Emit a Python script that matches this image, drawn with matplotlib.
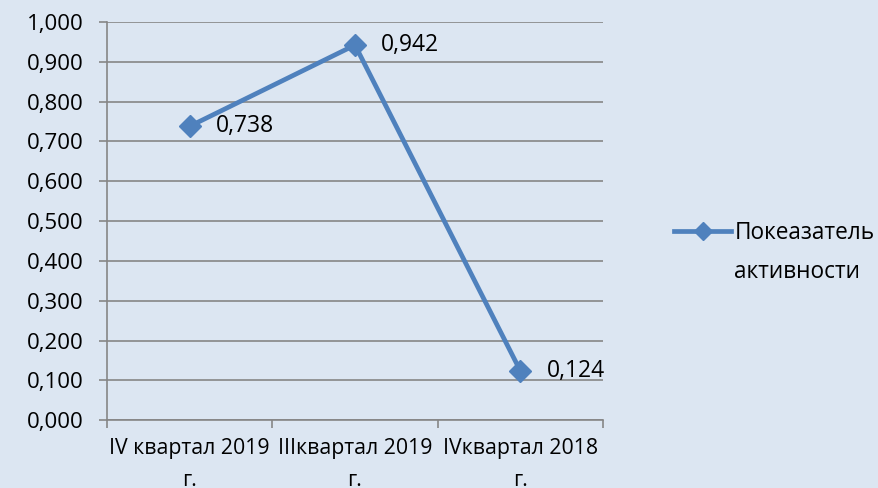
import matplotlib.pyplot as plt
from matplotlib.ticker import FuncFormatter

# Data
categories = ['IV квартал 2019\nг.', 'IIIквартал 2019\nг.', 'IVквартал 2018\nг.']
values = [0.738, 0.942, 0.124]
series_name = 'Покеазатель активности'
y_ticks = [0.0, 0.1, 0.2, 0.3, 0.4, 0.5, 0.6, 0.7, 0.8, 0.9, 1.0]

bg = '#dce6f2'
line_color = '#4f81bd'
grid_color = '#868686'

plt.rcParams['font.family'] = ['Open Sans', 'DejaVu Sans']

fig = plt.figure(figsize=(8.79, 4.88), dpi=100, facecolor=bg)
ax = fig.add_axes([0.1217, 0.139, 0.5643, 0.816], facecolor=bg)

x = list(range(len(values)))
ax.plot(x, values, color=line_color, linewidth=3.4, marker='D', markersize=11,
        label=series_name)

# data labels to the right of each point
for xi, v in zip(x, values):
    ax.annotate(f'{v:.3f}'.replace('.', ','), (xi, v), xytext=(19, 0),
                textcoords='offset points', va='center', ha='left', fontsize=16.5)

ax.set_ylim(0, 1.0)
ax.set_yticks(y_ticks)
ax.yaxis.set_major_formatter(FuncFormatter(lambda v, p: f'{v:.3f}'.replace('.', ',')))
ax.set_xlim(-0.5, len(values) - 0.5)
ax.set_xticks([i - 0.5 for i in range(len(values) + 1)])
ax.set_xticklabels([])
ax.set_xticks(x, minor=True)
ax.set_xticklabels(categories, minor=True, fontsize=15.3, linespacing=1.7)
ax.tick_params(axis='x', which='minor', length=0, pad=13)
ax.tick_params(axis='x', which='major', length=6, color=grid_color, width=1.2)
ax.tick_params(axis='y', length=6, color=grid_color, width=1.2, labelsize=16, pad=11)

ax.grid(axis='y', color=grid_color, linewidth=1.2)
ax.set_axisbelow(True)
for s in ['top', 'right']:
    ax.spines[s].set_visible(False)
for s in ['left', 'bottom']:
    ax.spines[s].set_color(grid_color)
    ax.spines[s].set_linewidth(1.2)

# legend: handle beside first word, second word wrapped below it
first, second = series_name.split(' ')
leg = ax.legend([ax.lines[0]], [first], loc='center left', bbox_to_anchor=(0.757, 0.523),
                bbox_transform=fig.transFigure, frameon=False, fontsize=16.3,
                handlelength=2.5, handletextpad=0.15, borderaxespad=0, markerscale=0.85)
fig.canvas.draw()
tb = leg.get_texts()[0].get_window_extent().transformed(fig.transFigure.inverted())
fig.text(tb.x0, tb.y0 - 0.055, second, fontsize=16.3, ha='left', va='center')

fig.savefig('out.png', dpi=100, facecolor=bg)
